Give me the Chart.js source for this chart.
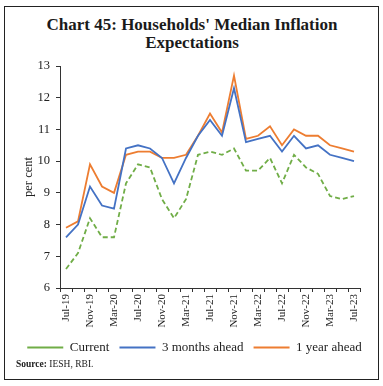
<!DOCTYPE html>
<html>
<head>
<meta charset="utf-8">
<script src="https://cdn.jsdelivr.net/npm/chart.js@4.4.0/dist/chart.umd.min.js"></script>
<style>
  html, body { margin: 0; padding: 0; background: #fff; }
  body { width: 383px; height: 386px; position: relative; overflow: hidden; font-family: "Liberation Serif", serif; }
  #frame { position: absolute; left: 4px; top: 6px; width: 373px; height: 372px; border: 1.5px solid #222; }
  #title { position: absolute; left: 4px; width: 376px; top: 16px; text-align: center; font-weight: bold; font-size: 17px; line-height: 18px; color: #1a1a1a; }
  #source { position: absolute; left: 16px; top: 359px; font-size: 9.5px; color: #222; }
  #wrap { position: absolute; left: 5px; top: 52px; width: 373px; height: 312px; }
</style>
</head>
<body>
<div id="frame"></div>
<div id="title">Chart 45: Households' Median Inflation<br>Expectations</div>
<div id="wrap"><canvas id="c" width="373" height="312"></canvas></div>
<div id="source"><b>Source:</b> IESH, RBI.</div>
<script>
const months = ["Jul-19","Sep-19","Nov-19","Jan-20","Mar-20","May-20","Jul-20","Sep-20","Nov-20","Jan-21","Mar-21","May-21","Jul-21","Sep-21","Nov-21","Jan-22","Mar-22","May-22","Jul-22","Sep-22","Nov-22","Jan-23","Mar-23","May-23","Jul-23"];
const current = [6.6, 7.1, 8.2, 7.6, 7.6, 9.3, 9.9, 9.8, 8.8, 8.2, 8.8, 10.2, 10.3, 10.2, 10.4, 9.7, 9.7, 10.1, 9.3, 10.2, 9.8, 9.6, 8.9, 8.8, 8.9];
const threeMonthsAhead = [7.6, 8.0, 9.2, 8.6, 8.5, 10.4, 10.5, 10.4, 10.1, 9.3, 10.1, 10.8, 11.3, 10.8, 12.3, 10.6, 10.7, 10.8, 10.3, 10.8, 10.4, 10.5, 10.2, 10.1, 10.0];
const oneYearAhead = [7.9, 8.1, 9.9, 9.2, 9.0, 10.2, 10.3, 10.3, 10.1, 10.1, 10.2, 10.8, 11.5, 10.9, 12.7, 10.7, 10.8, 11.1, 10.5, 11.0, 10.8, 10.8, 10.5, 10.4, 10.3];
const yMin = 6, yMax = 13, yStep = 1;
const yTitle = "per cent";

const serif = '"Liberation Serif", serif';
const shiftLegend = {
  id: 'shiftLegend',
  afterLayout(chart) {
    const l = chart.legend;
    if (l) { l.left += 12; l.right += 12; }
  }
};
new Chart(document.getElementById('c'), {
  type: 'line',
  plugins: [shiftLegend],
  data: {
    labels: months,
    datasets: [
      { label: 'Current', data: current, borderColor: '#70AD47', backgroundColor: '#70AD47', borderWidth: 1.8, borderDash: [5, 3], pointRadius: 0, tension: 0 },
      { label: '3 months ahead', data: threeMonthsAhead, borderColor: '#4472C4', backgroundColor: '#4472C4', borderWidth: 1.8, pointRadius: 0, tension: 0 },
      { label: '1 year ahead', data: oneYearAhead, borderColor: '#ED7D31', backgroundColor: '#ED7D31', borderWidth: 1.8, pointRadius: 0, tension: 0 }
    ]
  },
  options: {
    responsive: false,
    animation: false,
    devicePixelRatio: 1,
    layout: { padding: { left: 0, right: 18, top: 14, bottom: 0 } },
    plugins: {
      tooltip: { enabled: false },
      legend: {
        position: 'bottom',
        labels: {
          usePointStyle: true,
          pointStyle: 'line',
          pointStyleWidth: 36,
          boxWidth: 36,
          padding: 10,
          color: '#222',
          font: { family: serif, size: 13 }
        }
      }
    },
    scales: {
      x: {
        type: 'category',
        offset: true,
        grid: { display: true, offset: true, drawOnChartArea: false, drawTicks: true, tickLength: 4, color: '#333', lineWidth: 1 },
        border: { display: true, color: '#333', width: 1 },
        ticks: {
          autoSkip: false, maxRotation: 90, minRotation: 90, padding: 2,
          color: '#222', font: { family: serif, size: 11 },
          callback: function(v, i) { return i % 2 === 0 ? months[i] : ''; }
        },
        afterFit: function(s) { s.height = 43; }
      },
      y: {
        min: yMin, max: yMax,
        grid: { display: true, drawOnChartArea: false, drawTicks: true, tickLength: 4, color: '#333', lineWidth: 1 },
        border: { display: true, color: '#333', width: 1 },
        ticks: { stepSize: yStep, padding: 6, color: '#222', font: { family: serif, size: 12.5 } },
        title: { display: true, text: yTitle, color: '#222', font: { family: serif, size: 12.5 }, padding: { top: 16, bottom: 0 } },
        afterFit: function(s) { s.width = 55; }
      }
    }
  }
});
</script>
</body>
</html>
